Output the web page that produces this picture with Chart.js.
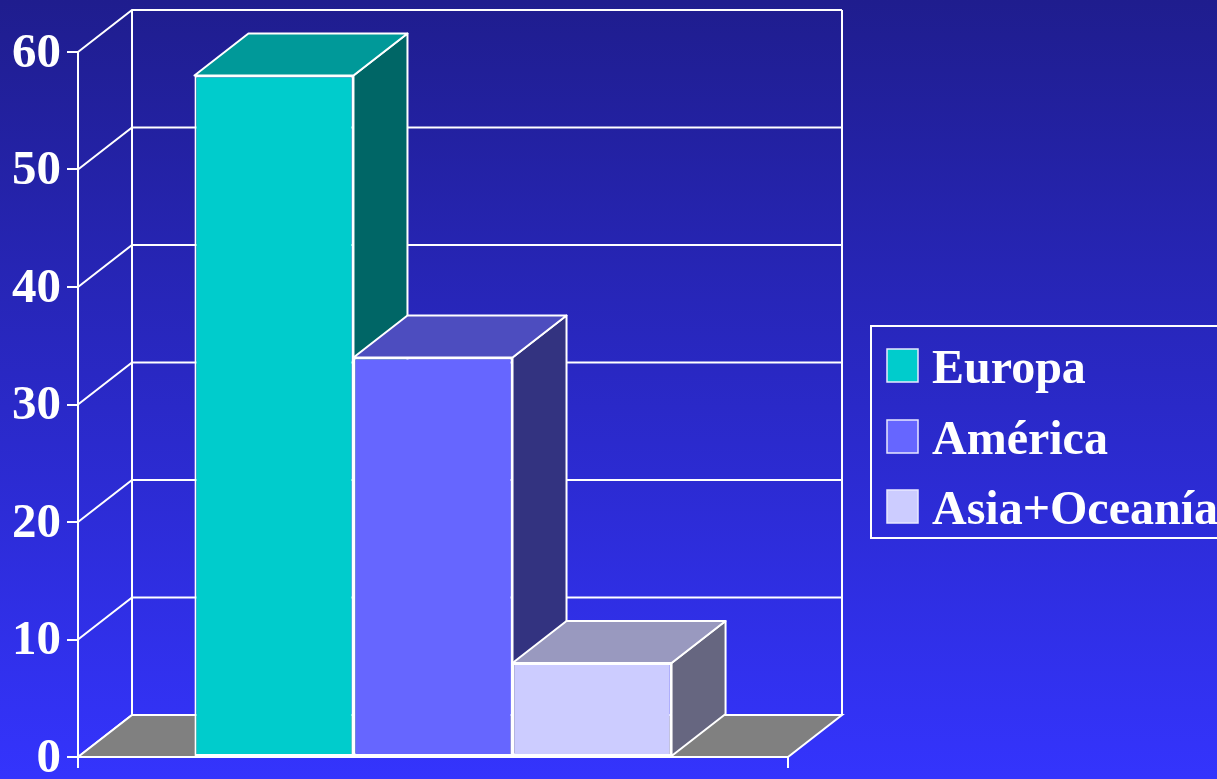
<!DOCTYPE html>
<html>
<head>
<meta charset="utf-8">
<script src="https://cdn.jsdelivr.net/npm/chart.js@4"></script>
<style>
  html, body { margin: 0; padding: 0; background: #2a2ac8; }
  #wrap { width: 1217px; height: 779px; position: relative; }
</style>
</head>
<body>
<div id="wrap"><canvas id="c"></canvas></div>
<script>
// ---- data ----
const categories = [''];
const seriesNames = ['Europa', 'América', 'Asia+Oceanía'];
const europaValues = [58];
const americaValues = [34];
const asiaValues = [8];
const yTicks = [0, 10, 20, 30, 40, 50, 60];

// ---- styling ----
const frontColors = ['#00CCCC', '#6666FF', '#CCCCFF'];
const topColors   = ['#009999', '#4D4DBF', '#9999BF'];
const sideColors  = ['#006666', '#333380', '#666680'];
const DX = 54, DY = 42;
const FONT = "'Liberation Serif', 'Times New Roman', serif";

const plugin3d = {
  id: 'bars3d',
  beforeDraw(chart) {
    const { ctx, width, height, chartArea: a, scales: { y } } = chart;
    ctx.save();
    const g = ctx.createLinearGradient(0, 0, 0, height);
    g.addColorStop(0, '#1f1d8e');
    g.addColorStop(1, '#3434fd');
    ctx.fillStyle = g;
    ctx.fillRect(0, 0, width, height);

    ctx.strokeStyle = '#ffffff';
    ctx.lineWidth = 2;
    const y0 = y.getPixelForValue(0);
    const yTop = y.getPixelForValue(y.max);
    // back wall grid lines and left side wall diagonals
    y.ticks.forEach(t => {
      const py = y.getPixelForValue(t.value);
      ctx.beginPath();
      ctx.moveTo(a.left, py);
      ctx.lineTo(a.left + DX, py - DY);
      ctx.lineTo(a.right + DX, py - DY);
      ctx.stroke();
    });
    // back wall edges
    ctx.beginPath();
    ctx.moveTo(a.left + DX, yTop - DY);
    ctx.lineTo(a.left + DX, y0 - DY);
    ctx.moveTo(a.right + DX, yTop - DY);
    ctx.lineTo(a.right + DX, y0 - DY);
    ctx.stroke();
    // floor
    ctx.beginPath();
    ctx.moveTo(a.left, y0);
    ctx.lineTo(a.left + DX, y0 - DY);
    ctx.lineTo(a.right + DX, y0 - DY);
    ctx.lineTo(a.right, y0);
    ctx.closePath();
    ctx.fillStyle = '#808080';
    ctx.fill();
    ctx.stroke();
    ctx.restore();
  },
  beforeDatasetsDraw(chart) {
    const { ctx } = chart;
    ctx.save();
    ctx.strokeStyle = '#ffffff';
    ctx.lineWidth = 2;
    ctx.lineJoin = 'round';
    chart.data.datasets.forEach((ds, di) => {
      const meta = chart.getDatasetMeta(di);
      meta.data.forEach(bar => {
        const p = bar.getProps(['x', 'y', 'base', 'width'], true);
        const l = p.x - p.width / 2, r = p.x + p.width / 2;
        // side
        ctx.beginPath();
        ctx.moveTo(r, p.y);
        ctx.lineTo(r + DX, p.y - DY);
        ctx.lineTo(r + DX, p.base - DY);
        ctx.lineTo(r, p.base);
        ctx.closePath();
        ctx.fillStyle = sideColors[di];
        ctx.fill();
        ctx.stroke();
        // top
        ctx.beginPath();
        ctx.moveTo(l, p.y);
        ctx.lineTo(l + DX, p.y - DY);
        ctx.lineTo(r + DX, p.y - DY);
        ctx.lineTo(r, p.y);
        ctx.closePath();
        ctx.fillStyle = topColors[di];
        ctx.fill();
        ctx.stroke();
      });
    });
    ctx.restore();
  },
  afterDraw(chart) {
    const { ctx } = chart;
    ctx.save();
    ctx.strokeStyle = '#ffffff';
    ctx.lineWidth = 2;
    // legend frame
    ctx.strokeRect(871, 326, 420, 212);
    ctx.font = 'bold 48px ' + FONT;
    ctx.textBaseline = 'alphabetic';
    ctx.textAlign = 'left';
    const rowY = [349, 420, 490];
    chart.data.datasets.forEach((ds, i) => {
      const ty = rowY[i];
      ctx.fillStyle = ds.backgroundColor;
      ctx.fillRect(887, ty, 31, 33);
      ctx.lineWidth = 1.5;
      ctx.strokeStyle = '#e8e8ff';
      ctx.strokeRect(887, ty, 31, 33);
      ctx.fillStyle = '#ffffff';
      ctx.fillText(ds.label, 932, ty + 34);
    });
    ctx.restore();
  }
};

const datasets = [europaValues, americaValues, asiaValues].map((vals, i) => ({
  label: seriesNames[i],
  data: vals,
  backgroundColor: frontColors[i],
  borderColor: '#ffffff',
  borderWidth: 2,
  borderSkipped: false
}));

function noPad(s) { s.paddingTop = 0; s.paddingBottom = 0; s.paddingLeft = 0; s.paddingRight = 0; }

new Chart(document.getElementById('c'), {
  type: 'bar',
  data: { labels: categories, datasets },
  plugins: [plugin3d],
  options: {
    responsive: true,
    maintainAspectRatio: false,
    animation: false,
    layout: { padding: { top: 52, right: 429, bottom: 0, left: 0 } },
    datasets: { bar: { categoryPercentage: 0.672, barPercentage: 1 } },
    plugins: { legend: { display: false }, tooltip: { enabled: false } },
    scales: {
      x: {
        ticks: { display: false },
        grid: { display: true, drawOnChartArea: false, drawTicks: true, tickLength: 11, color: '#ffffff', lineWidth: 2 },
        border: { display: true, color: '#ffffff', width: 2 },
        afterFit(s) { s.height = 22; noPad(s); }
      },
      y: {
        min: 0, max: 60,
        afterBuildTicks(s) { s.ticks = yTicks.map(v => ({ value: v })); },
        ticks: { color: '#ffffff', font: { family: FONT, size: 49, weight: 'bold' }, padding: 6, labelOffset: 2 },
        grid: { display: true, drawOnChartArea: false, drawTicks: true, tickLength: 11, color: '#ffffff', lineWidth: 2 },
        border: { display: true, color: '#ffffff', width: 2 },
        afterFit(s) { s.width = 78; noPad(s); }
      }
    }
  }
});
</script>
</body>
</html>
